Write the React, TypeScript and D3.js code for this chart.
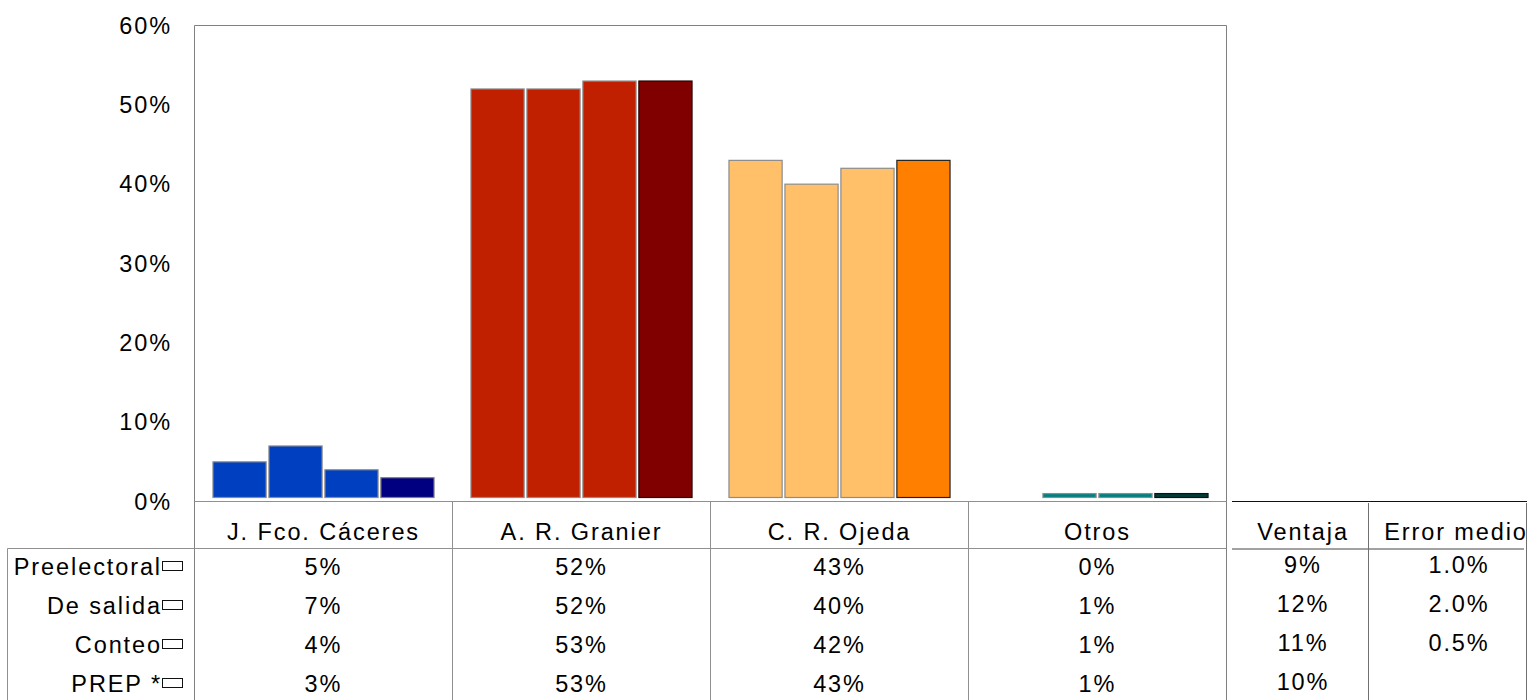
import React from "react";
import * as d3 from "d3";

// candidates and the four measurements (percent)
const candidates = ["J. Fco. Cáceres", "A. R. Granier", "C. R. Ojeda", "Otros"];
const series = ["Preelectoral", "De salida", "Conteo", "PREP *"];

const caceres = [5, 7, 4, 3];
const granier = [52, 52, 53, 53];
const ojeda = [43, 40, 42, 43];
const otros = [0, 1, 1, 1];
const values = [caceres, granier, ojeda, otros];

const ventaja = [9, 12, 11, 10];
const errorMedio = [1.0, 2.0, 0.5, null];

const yTicks = [0, 10, 20, 30, 40, 50, 60];

// light fill for the three surveys, dark fill for the PREP
const lightColors = ["#0040C0", "#C02000", "#FFC069", "#008080"];
const darkColors = ["#000080", "#800000", "#FF8000", "#003C3C"];
const prepStroke = ["#808080", "#2a0000", "#222222", "#111111"];

const font = "'Liberation Sans', Arial, sans-serif";
const fontSize = 23.5;
const spacing = 1.9;

export default function App() {
  const plot = { left: 194.5, right: 1226.5, top: 25.5, bottom: 501.5 };

  const x = d3
    .scaleBand()
    .domain(candidates)
    .range([plot.left, plot.right])
    .paddingInner(0)
    .paddingOuter(0);

  const xInner = d3
    .scaleBand()
    .domain(series)
    .range([0, x.bandwidth()])
    .paddingInner(0.05)
    .paddingOuter(0.33);

  const y = d3.scaleLinear().domain([0, 60]).range([plot.bottom, plot.top]);

  const rowY = d3.scalePoint().domain(series).range([567, 684]);
  const headerY = 532;
  const tableTop = 548.5;

  const ventajaX = 1303;
  const errorX = 1459;

  const textStyle = {
    fontFamily: font,
    fontSize,
    letterSpacing: spacing,
    fill: "#000",
  };

  const boundaries = candidates.map((c) => x(c)).concat([plot.right]);

  return (
    <div style={{ position: "absolute", left: 0, top: 0 }}>
      <svg width={1533} height={700} style={{ display: "block" }}>
        <rect x={0} y={0} width={1533} height={700} fill="#fff" />

        {/* plot frame */}
        <line x1={plot.left} y1={plot.top} x2={plot.right} y2={plot.top} stroke="#808080" />
        <line x1={plot.left} y1={plot.top} x2={plot.left} y2={700} stroke="#808080" />
        <line x1={plot.right} y1={plot.top} x2={plot.right} y2={700} stroke="#808080" />

        {/* y axis labels */}
        {yTicks.map((t) => (
          <text
            key={t}
            x={172}
            y={y(t)}
            textAnchor="end"
            dominantBaseline="central"
            style={textStyle}
          >
            {t + "%"}
          </text>
        ))}

        {/* bars */}
        {candidates.map((c, ci) =>
          series.map((s, si) => {
            const v = values[ci][si];
            if (v <= 0) return null;
            const isPrep = si === series.length - 1;
            return (
              <rect
                key={c + s}
                x={(x(c) as number) + (xInner(s) as number)}
                y={y(v)}
                width={xInner.bandwidth()}
                height={y(0) - y(v) - 4}
                fill={isPrep ? darkColors[ci] : lightColors[ci]}
                stroke={isPrep ? prepStroke[ci] : "#8c8c8c"}
                strokeWidth={1.2}
              />
            );
          })
        )}

        {/* data table */}
        <line x1={plot.left} y1={plot.bottom} x2={plot.right} y2={plot.bottom} stroke="#909090" />
        <line x1={7.5} y1={tableTop} x2={plot.right} y2={tableTop} stroke="#909090" />
        <line x1={7.5} y1={tableTop} x2={7.5} y2={700} stroke="#909090" />
        {boundaries.slice(1, -1).map((bx, i) => (
          <line key={i} x1={bx} y1={plot.bottom} x2={bx} y2={700} stroke="#909090" />
        ))}

        {candidates.map((c) => (
          <text
            key={c}
            x={(x(c) as number) + x.bandwidth() / 2}
            y={headerY}
            textAnchor="middle"
            dominantBaseline="central"
            style={textStyle}
          >
            {c}
          </text>
        ))}

        {series.map((s) => (
          <g key={s}>
            <text
              x={162}
              y={rowY(s)}
              textAnchor="end"
              dominantBaseline="central"
              style={textStyle}
            >
              {s}
            </text>
            <rect
              x={162.5}
              y={(rowY(s) as number) - 5.5}
              width={20}
              height={9}
              fill="#fff"
              stroke="#111"
              strokeWidth={1}
            />
          </g>
        ))}

        {candidates.map((c, ci) =>
          series.map((s, si) => (
            <text
              key={c + s}
              x={(x(c) as number) + x.bandwidth() / 2}
              y={rowY(s)}
              textAnchor="middle"
              dominantBaseline="central"
              style={textStyle}
            >
              {values[ci][si] + "%"}
            </text>
          ))
        )}

        {/* ventaja / error medio table */}
        <line x1={1232} y1={501.5} x2={1527} y2={501.5} stroke="#111" />
        <line x1={1232} y1={549} x2={1524} y2={549} stroke="#444" />
        <line x1={1368.5} y1={503} x2={1368.5} y2={700} stroke="#707070" />
        <line x1={1526.5} y1={503} x2={1526.5} y2={700} stroke="#707070" />

        <text x={ventajaX} y={headerY} textAnchor="middle" dominantBaseline="central" style={textStyle}>
          Ventaja
        </text>
        <text x={1456} y={headerY} textAnchor="middle" dominantBaseline="central" style={textStyle}>
          Error medio
        </text>

        {series.map((s, si) => (
          <g key={"v" + s}>
            <text
              x={ventajaX}
              y={(rowY(s) as number) - 2}
              textAnchor="middle"
              dominantBaseline="central"
              style={textStyle}
            >
              {ventaja[si] + "%"}
            </text>
            {errorMedio[si] !== null && (
              <text
                x={errorX}
                y={(rowY(s) as number) - 2}
                textAnchor="middle"
                dominantBaseline="central"
                style={textStyle}
              >
                {(errorMedio[si] as number).toFixed(1) + "%"}
              </text>
            )}
          </g>
        ))}
      </svg>
    </div>
  );
}
